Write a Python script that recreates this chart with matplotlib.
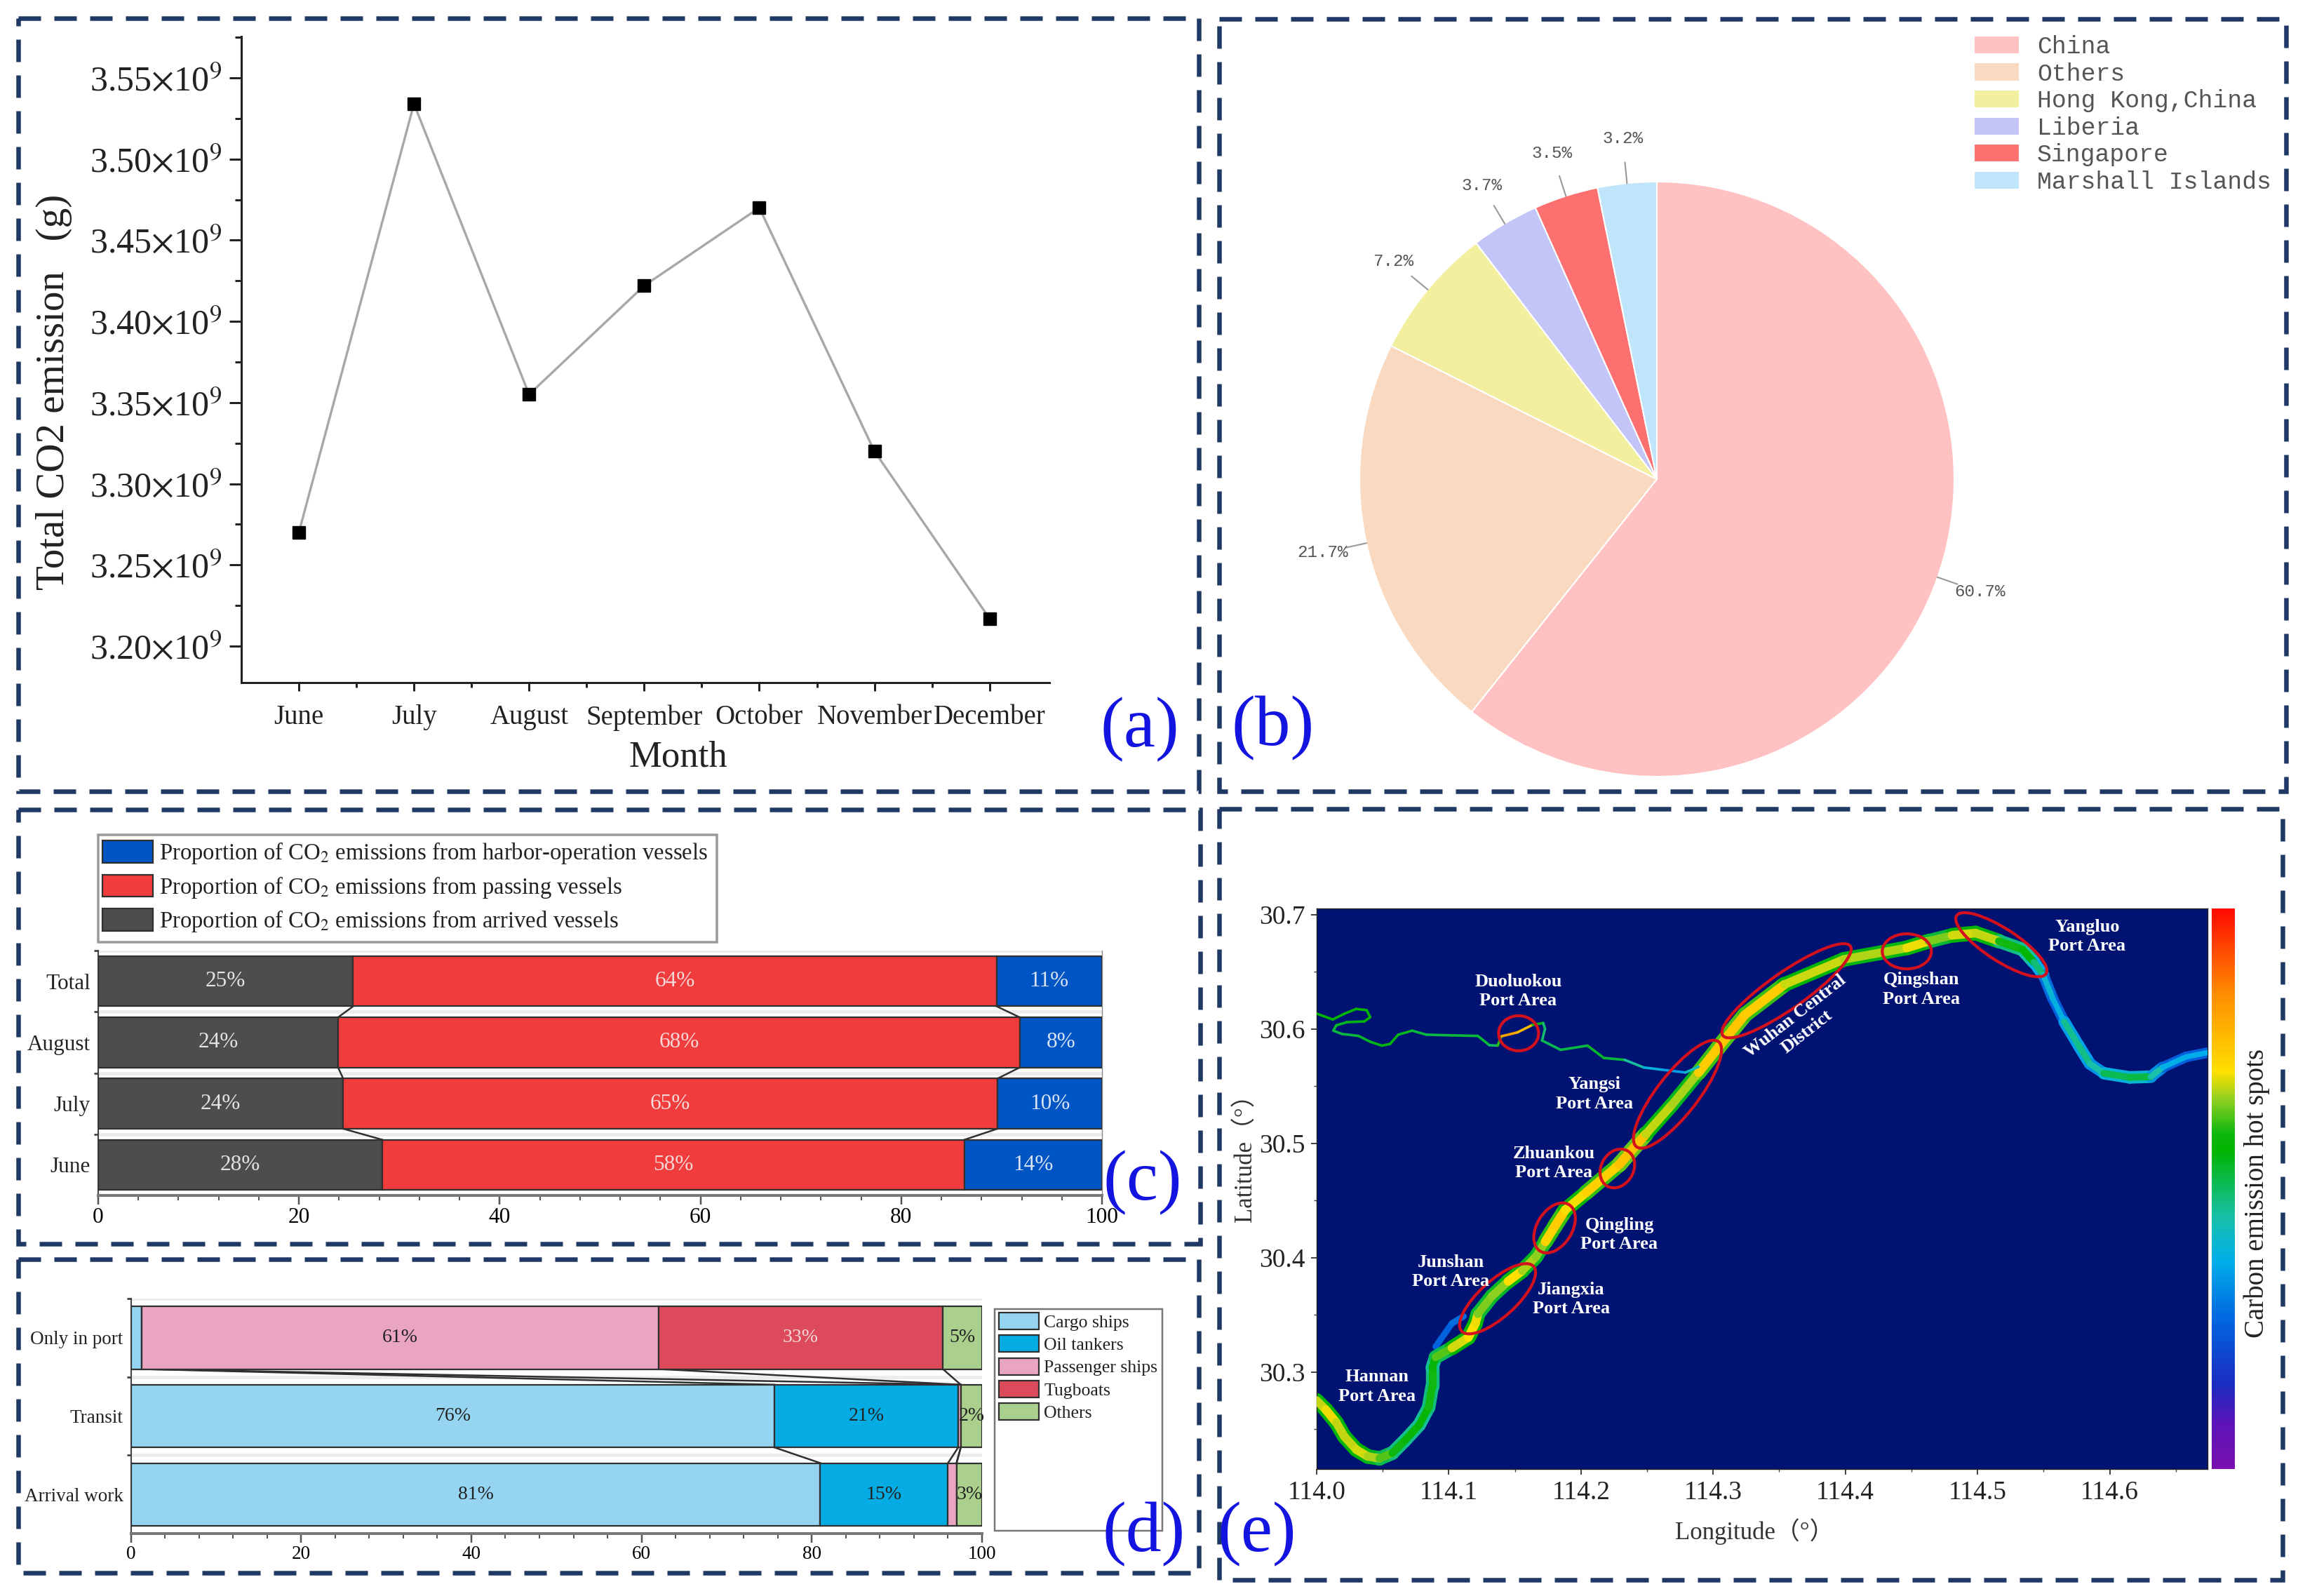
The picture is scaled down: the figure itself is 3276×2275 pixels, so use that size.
import numpy as np
import matplotlib
matplotlib.use("Agg")
import matplotlib.pyplot as plt
from matplotlib.patches import Rectangle
from matplotlib.collections import LineCollection, EllipseCollection
from matplotlib.colors import LinearSegmentedColormap
from matplotlib.cm import ScalarMappable
from matplotlib.ticker import FixedLocator, MultipleLocator, FuncFormatter

# ---------------- data ----------------
months = ["June", "July", "August", "September", "October", "November", "December"]
co2_total = [3.27e9, 3.534e9, 3.355e9, 3.422e9, 3.47e9, 3.32e9, 3.217e9]

flag_names = ["China", "Others", "Hong Kong,China", "Liberia", "Singapore", "Marshall Islands"]
flag_share = [60.7, 21.7, 7.2, 3.7, 3.5, 3.2]
flag_colors = ["#FFC1C1", "#F9D9BF", "#F2EF9E", "#C3C4F7", "#FC7070", "#BFE5FB"]

c_cats = ["June", "July", "August", "Total"]
c_arrived = [28.3, 24.4, 23.9, 25.4]
c_passing = [58.0, 65.2, 67.9, 64.1]
c_harbor = [13.7, 10.4, 8.2, 10.5]
c_arrived_lab = ["28%", "24%", "24%", "25%"]
c_passing_lab = ["58%", "65%", "68%", "64%"]
c_harbor_lab = ["14%", "10%", "8%", "11%"]

d_cats = ["Arrival work", "Transit", "Only in port"]
d_cargo = [81.0, 75.6, 1.3]
d_oil = [15.0, 21.6, 0.0]
d_passenger = [1.0, 0.3, 60.7]
d_tug = [0.0, 0.0, 33.4]
d_others = [3.0, 2.5, 4.6]
d_cargo_lab = ["81%", "76%", ""]
d_oil_lab = ["15%", "21%", ""]
d_passenger_lab = ["", "", "61%"]
d_tug_lab = ["", "", "33%"]
d_others_lab = ["3%", "2%", "5%"]

river_lon = [114.0, 114.0069, 114.0149, 114.021, 114.0299, 114.0387, 114.0476, 114.0573, 114.067, 114.0776,
             114.0847, 114.0874, 114.0874, 114.09, 114.1024, 114.1148, 114.1201, 114.122, 114.1325, 114.1449,
             114.1555, 114.166, 114.1731, 114.1802, 114.1881, 114.204, 114.229, 114.249, 114.269, 114.289,
             114.304, 114.324, 114.354, 114.399, 114.4465, 114.4631, 114.4808, 114.4985, 114.5162, 114.5339,
             114.5427, 114.5498, 114.5569, 114.5657, 114.5763, 114.5851, 114.5957, 114.6152, 114.6311, 114.64,
             114.6577, 114.6736]
river_lat = [30.275, 30.2669, 30.2556, 30.2434, 30.2321, 30.226, 30.2243, 30.229, 30.2403, 30.2536,
             30.2689, 30.2873, 30.3037, 30.3129, 30.321, 30.3302, 30.3425, 30.3507, 30.3661, 30.3793,
             30.3885, 30.4008, 30.4141, 30.4274, 30.4417, 30.457, 30.4815, 30.508, 30.534, 30.562,
             30.584, 30.6125, 30.639, 30.661, 30.671, 30.6769, 30.682, 30.684, 30.6769, 30.6697,
             30.6585, 30.6472, 30.6268, 30.6063, 30.5859, 30.5695, 30.5613, 30.5577, 30.5583, 30.5664,
             30.5756, 30.5793]
river_heat = [.66, .70, .70, .66, .70, .68, .66, .60, .59, .58,
              .58, .62, .58, .58, .68, .70, .72, .68, .62, .70,
              .72, .62, .70, .76, .72, .69, .78, .74, .62, .72,
              .76, .74, .74, .63, .72, .68, .62, .76, .60, .60,
              .55, .42, .38, .38, .55, .40, .50, .52, .52, .38,
              .37, .37]
trib_lon = [114.0, 114.0122, 114.0211, 114.0299, 114.0378, 114.0405, 114.0361, 114.0228, 114.0149, 114.0126,
            114.0193, 114.0317, 114.0405, 114.0493, 114.0555, 114.0617, 114.0723, 114.0829, 114.1024, 114.1219,
            114.1307, 114.1369, 114.1399, 114.1519, 114.1634, 114.1714, 114.1728, 114.1705, 114.1846, 114.2049,
            114.2173, 114.2332, 114.2474, 114.2616, 114.279, 114.289]
trib_lat = [30.6135, 30.6084, 30.6135, 30.6176, 30.6166, 30.6104, 30.6067, 30.606, 30.6033, 30.5986,
            30.5957, 30.594, 30.5889, 30.5855, 30.5869, 30.5951, 30.5986, 30.5951, 30.5945, 30.594,
            30.5859, 30.5855, 30.5937, 30.5971, 30.6037, 30.6053, 30.6002, 30.59, 30.5818, 30.5855,
            30.5747, 30.573, 30.5664, 30.5644, 30.562, 30.567]
trib_heat = [.57, .57, .57, .58, .58, .57, .56, .55, .54, .53,
             .52, .53, .55, .56, .56, .56, .54, .52, .52, .54,
             .52, .48, .74, .88, .66, .50, .48, .50, .52, .52,
             .56, .50, .42, .36, .34, .50]
side_lon = [114.09, 114.1024, 114.1112]
side_lat = [30.3221, 30.3425, 30.3486]
side_heat = [.26, .26, .30]

hot_lon = [114.1528, 114.3555, 114.273, 114.2275, 114.18, 114.1369, 114.518, 114.4465]
hot_lat = [30.5963, 30.6335, 30.543, 30.478, 30.426, 30.364, 30.6738, 30.668]
hot_long_px = [57, 222, 190, 58, 78, 138, 152, 70]
hot_short_px = [50, 52, 58, 46, 50, 52, 46, 50]
hot_tilt = [0, 35, 52, 60, 58, 42, -33, 0]

port_names = ["Duoluokou\nPort Area", "Yangsi\nPort Area", "Zhuankou\nPort Area", "Qingling\nPort Area",
              "Junshan\nPort Area", "Jiangxia\nPort Area", "Hannan\nPort Area", "Qingshan\nPort Area",
              "Yangluo\nPort Area"]
port_lon = [114.1525, 114.21, 114.1795, 114.229, 114.1015, 114.1925, 114.0455, 114.4575, 114.583]
port_lat = [30.633, 30.543, 30.4827, 30.42, 30.3875, 30.3637, 30.287, 30.6347, 30.681]

# ---------------- page ----------------
W, H = 3276, 2275
PX = 0.72  # points per output pixel at dpi 100
plt.rcParams.update({
    "font.family": ["Liberation Serif", "Noto Sans CJK SC", "DejaVu Sans"],
    "mathtext.fontset": "stix",
    "lines.scale_dashes": False,
})
fig = plt.figure(figsize=(W / 100, H / 100), dpi=100, facecolor="white")


def axpx(l, t, r, b, **kw):
    return fig.add_axes([l / W, 1 - b / H, (r - l) / W, (b - t) / H], **kw)


def place(ax, x, y):
    return ax.transAxes.inverted().transform(fig.transFigure.transform((x / W, 1 - y / H)))


# ---------------- (a) ----------------
ax = axpx(344, 52, 1496, 973)
x = np.arange(len(months))
ax.plot(x, co2_total, color="#a8a8a8", lw=2.6 * PX * 1.3, marker="s", ms=18 * PX,
        mfc="black", mec="black", zorder=3, clip_on=False)
ax.set_xlim(-0.5, 6.52)
ax.set_ylim(3.1775e9, 3.5755e9)
ax.set_xticks(x, months)
ax.yaxis.set_major_locator(FixedLocator(np.arange(3.20, 3.56, 0.05) * 1e9))
ax.yaxis.set_minor_locator(MultipleLocator(0.025e9))
ax.yaxis.set_major_formatter(FuncFormatter(lambda v, p: f"{v / 1e9:.2f}" + r"$\times$10$^{9}$"))
ax.xaxis.set_minor_locator(FixedLocator(x[:-1] + 0.5))
for s in ("top", "right"):
    ax.spines[s].set_visible(False)
for s in ("left", "bottom"):
    ax.spines[s].set_linewidth(3 * PX)
    ax.spines[s].set_color("#222222")
ax.tick_params(axis="y", which="major", length=17 * PX, width=3 * PX, labelsize=36, pad=8, colors="#222222")
ax.tick_params(axis="y", which="minor", length=9 * PX, width=3 * PX, color="#222222")
ax.tick_params(axis="x", which="major", length=12 * PX, width=3 * PX, labelsize=28, pad=14, colors="#222222")
ax.tick_params(axis="x", which="minor", length=7 * PX, width=3 * PX, color="#222222")
ax.set_xlabel("Month", fontsize=38, color="#222222")
ax.xaxis.set_label_coords(*place(ax, 967, 1080), transform=ax.transAxes)
ax.xaxis.label.set_verticalalignment("center")
ax.set_ylabel("Total CO2 emission   (g)", fontsize=41, color="#222222")
ax.yaxis.set_label_coords(*place(ax, 77, 559), transform=ax.transAxes)
ax.yaxis.label.set_verticalalignment("center")

# ---------------- (b) ----------------
ax = axpx(2362 - 424, 683 - 424, 2362 + 424, 683 + 424)
wedges, _ = ax.pie(flag_share, colors=flag_colors, startangle=90, counterclock=False, radius=1,
                   wedgeprops=dict(edgecolor="white", linewidth=1.5))
ax.set_xlim(-1, 1)
ax.set_ylim(-1, 1)
for w, v in zip(wedges, flag_share):
    a = np.deg2rad((w.theta1 + w.theta2) / 2)
    ca, sa = np.cos(a), np.sin(a)
    ax.plot([ca * 1.0, ca * 1.07], [sa * 1.0, sa * 1.07], color="#999999", lw=1.5, clip_on=False)
    ax.text(ca * 1.15, sa * 1.15, f"{v:.1f}%", ha="center", va="center", fontsize=17.5,
            family="Liberation Mono", color="#555555")
ax.legend(wedges, flag_names, loc="upper left", bbox_to_anchor=(2814 / W, 1 - 50 / H),
          bbox_transform=fig.transFigure, frameon=False, borderpad=0, borderaxespad=0,
          prop=dict(family="Liberation Mono", size=25), labelcolor="#555555",
          handlelength=1.87, handleheight=0.78, handletextpad=0.72, labelspacing=0.16)


# ---------------- stacked bars (c), (d) ----------------
def stacked(ax, cats, series, colors, labels, textcolors, fs, bar_h):
    y = np.arange(len(cats))
    left = np.zeros(len(cats))
    bars = []
    edges = []
    for vals, col, lab, tc in zip(series, colors, labels, textcolors):
        b = ax.barh(y, vals, height=bar_h, left=left, color=col, edgecolor="#303030", linewidth=1.6, zorder=3)
        ax.bar_label(b, labels=lab, label_type="center", color=tc, fontsize=fs, zorder=4)
        bars.append(b)
        left = left + np.array(vals)
        edges.append(left.copy())
    for e in edges[:-1]:
        for i in range(len(cats) - 1):
            ax.plot([e[i], e[i + 1]], [i + bar_h / 2, i + 1 - bar_h / 2], color="#303030", lw=1.8, zorder=2)
    ax.set_xlim(0, 100)
    ax.set_ylim(-0.5, len(cats) - 0.5)
    ax.set_yticks(y, cats)
    ax.yaxis.set_minor_locator(FixedLocator(np.arange(len(cats)) + 0.5))
    ax.set_xticks(np.arange(0, 101, 20))
    ax.xaxis.set_minor_locator(MultipleLocator(4))
    ax.grid(axis="y", which="minor", color="#ececec", lw=5 * PX, zorder=0)
    ax.tick_params(axis="y", which="major", length=0, pad=8, colors="#222222")
    ax.tick_params(axis="y", which="minor", length=4, width=2, color="#444444")
    ax.tick_params(axis="x", which="major", length=9 * PX * 1.4, width=2.5 * PX, color="#555555")
    ax.tick_params(axis="x", which="minor", length=7 * PX, width=2 * PX, color="#555555")
    for s in ("top", "right"):
        ax.spines[s].set_visible(False)
    ax.spines["left"].set_linewidth(1.5)
    ax.spines["left"].set_color("#444444")
    ax.spines["bottom"].set_linewidth(4 * PX)
    ax.spines["bottom"].set_color("#777777")
    return bars


ax = axpx(140, 1355, 1571, 1704)
bars = stacked(ax, c_cats, [c_arrived, c_passing, c_harbor], ["#4D4D4D", "#F03C3C", "#0055C4"],
               [c_arrived_lab, c_passing_lab, c_harbor_lab], ["#e4e4e4", "#f6d8d8", "#d8e4f6"], 22.5, 0.82)
ax.tick_params(axis="both", which="major", labelsize=22.5)
ax.spines["right"].set_visible(True)
ax.spines["right"].set_linewidth(1)
ax.spines["right"].set_color("#888888")
ax.legend(bars[::-1], ["Proportion of CO$_2$ emissions from harbor-operation vessels",
                       "Proportion of CO$_2$ emissions from passing vessels",
                       "Proportion of CO$_2$ emissions from arrived vessels"],
          loc="upper left", bbox_to_anchor=(146 / W, 1 - 1198 / H), bbox_transform=fig.transFigure,
          frameon=False, borderpad=0, borderaxespad=0, fontsize=23.6, labelcolor="#222222",
          handlelength=2.2, handleheight=1.12, handletextpad=0.27, labelspacing=0.38)

ax = axpx(186.5, 1851, 1400, 2186)
bars = stacked(ax, d_cats, [d_cargo, d_oil, d_passenger, d_tug, d_others],
               ["#96D5F2", "#05ACE3", "#EAA5C3", "#DC4A5C", "#ABD08D"],
               [d_cargo_lab, d_oil_lab, d_passenger_lab, d_tug_lab, d_others_lab],
               ["#222222", "#222222", "#222222", "#f3d8da", "#222222"], 20, 0.8)
ax.tick_params(axis="both", which="major", labelsize=19.5)
ax.legend(bars, ["Cargo ships", "Oil tankers", "Passenger ships", "Tugboats", "Others"],
          loc="upper left", bbox_to_anchor=(1424 / W, 1 - 1871 / H), bbox_transform=fig.transFigure,
          frameon=False, borderpad=0, borderaxespad=0, fontsize=18.5, labelcolor="#222222",
          handlelength=2.2, handleheight=1.05, handletextpad=0.3, labelspacing=0.26)

# ---------------- (e) ----------------
heat_cmap = LinearSegmentedColormap.from_list("heat", [
    (0.00, "#7A10B0"), (0.08, "#5B14B8"), (0.15, "#1A2CC0"), (0.27, "#0068E0"), (0.37, "#00AEEA"),
    (0.45, "#18C0A8"), (0.57, "#00B400"), (0.60, "#10B810"), (0.66, "#90D020"), (0.71, "#FFE000"),
    (0.85, "#FF8C00"), (1.00, "#FF0A00")])

ax = axpx(1877, 1295, 3147, 2094, facecolor="#001373")
ax.set_xlim(114.0, 114.674)
ax.set_ylim(30.215, 30.7055)


def ribbon(lon, lat, heat):
    pts = np.column_stack([lon, lat])
    segs = np.stack([pts[:-1], pts[1:]], axis=1)
    h = (np.array(heat[:-1]) + np.array(heat[1:])) / 2
    return segs, h


segs, h = ribbon(river_lon, river_lat, river_heat)
ax.add_collection(LineCollection(segs, colors=heat_cmap(np.clip(h - 0.12, 0, 1)),
                                 linewidths=(8 + 19 * h) * PX, capstyle="round", zorder=2))
ax.add_collection(LineCollection(segs, colors=heat_cmap(h),
                                 linewidths=(2 + 15 * h) * PX, capstyle="round", zorder=3))
segs, h = ribbon(trib_lon, trib_lat, trib_heat)
ax.add_collection(LineCollection(segs, colors=heat_cmap(h), linewidths=3.6 * PX, capstyle="round", zorder=3))
segs, h = ribbon(side_lon, side_lat, side_heat)
ax.add_collection(LineCollection(segs, colors=heat_cmap(h), linewidths=9 * PX, capstyle="round", zorder=1))
ax.add_collection(EllipseCollection(
    np.array(hot_long_px) * PX, np.array(hot_short_px) * PX, hot_tilt, units="points",
    offsets=np.column_stack([hot_lon, hot_lat]), offset_transform=ax.transData,
    facecolors="none", edgecolors="#D2101E", linewidths=4.2 * PX, zorder=5))
for name, lo, la in zip(port_names, port_lon, port_lat):
    ax.text(lo, la, name, color="white", fontsize=19, fontweight="bold", ha="center", va="center",
            linespacing=1.25, zorder=6)
ax.text(114.3665, 30.6045, "Wuhan Central\nDistrict", color="white", fontsize=19, fontweight="bold",
        ha="center", va="center", rotation=38, linespacing=1.25, zorder=6)
ax.set_xticks(np.arange(114.0, 114.61, 0.1))
ax.set_yticks(np.arange(30.3, 30.71, 0.1))
ax.xaxis.set_major_formatter(FuncFormatter(lambda v, p: f"{v:.1f}"))
ax.yaxis.set_major_formatter(FuncFormatter(lambda v, p: f"{v:.1f}"))
ax.xaxis.set_minor_locator(MultipleLocator(0.05))
ax.yaxis.set_minor_locator(MultipleLocator(0.05))
ax.tick_params(axis="both", which="major", labelsize=27, length=6, width=1.2, colors="#222222", pad=6)
ax.tick_params(axis="both", which="minor", length=3, width=1, color="#444444")
for s in ax.spines.values():
    s.set_linewidth(1)
    s.set_color("#222222")
ax.set_xlabel("Longitude（°）", fontsize=25, color="#333333")
ax.xaxis.set_label_coords(*place(ax, 2501, 2183), transform=ax.transAxes)
ax.xaxis.label.set_verticalalignment("center")
ax.set_ylabel("Latitude（°）", fontsize=25, color="#333333")
ax.yaxis.set_label_coords(*place(ax, 1776, 1642), transform=ax.transAxes)
ax.yaxis.label.set_verticalalignment("center")

cax = axpx(3153, 1295, 3186, 2094)
cb = fig.colorbar(ScalarMappable(cmap=heat_cmap), cax=cax)
cb.set_ticks([])
cb.outline.set_visible(False)
cb.set_label("Carbon emission hot spots", fontsize=28, color="#222222")
cax.yaxis.set_label_coords(*place(cax, 3217, 1701), transform=cax.transAxes)
cax.yaxis.label.set_verticalalignment("center")

# ---------------- page overlay: frames, panel letters, legend boxes ----------------
ov = fig.add_axes([0, 0, 1, 1], facecolor="none", zorder=10)
ov.set_xlim(0, W)
ov.set_ylim(H, 0)
ov.axis("off")
frames = [(26, 26, 1709, 1128), (1738, 27, 3259, 1128), (26, 1154, 1711, 1773),
          (26, 1795, 1709, 2242), (1738, 1153, 3254, 2252)]
for l, t, r, b in frames:
    ov.add_patch(Rectangle((l, t), r - l, b - t, fill=False, edgecolor="#1F3864", lw=6.5 * PX,
                           linestyle=(0, (32 * PX, 19 * PX))))
ov.add_patch(Rectangle((140, 1190), 882, 153, fill=False, edgecolor="#999999", lw=3.5 * PX))
ov.add_patch(Rectangle((1418, 1866), 239, 316, fill=False, edgecolor="#777777", lw=2.5 * PX))
for lab, px_, py_ in [("(a)", 1625, 1040), ("(b)", 1815, 1038), ("(c)", 1629, 1686),
                      ("(d)", 1631, 2187), ("(e)", 1792, 2187)]:
    ov.text(px_, py_, lab, color="#1414E0", fontsize=73, ha="center", va="center")

fig.savefig("out.png", dpi=100)
